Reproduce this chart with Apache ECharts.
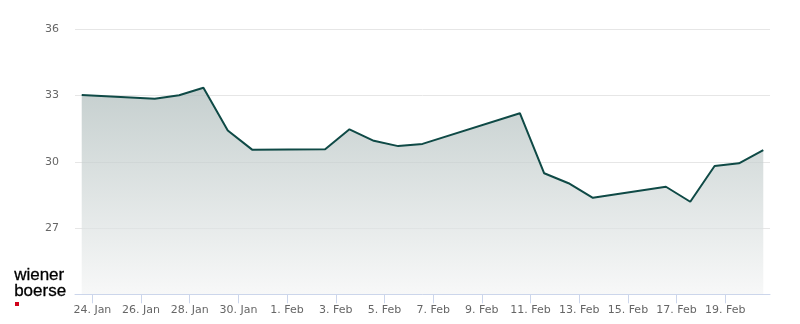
<!DOCTYPE html>
<html>
<head>
<meta charset="utf-8">
<script src="https://cdn.jsdelivr.net/npm/echarts@6/dist/echarts.min.js"></script>
<style>
html,body{margin:0;padding:0;background:#fff;}
#chart{width:800px;height:324px;}
</style>
</head>
<body>
<div id="chart"></div>
<script>
// Trading days (data timestamps are at 13:30 UTC of each day)
const dates = ['2026-01-23','2026-01-26','2026-01-27','2026-01-28','2026-01-29','2026-01-30',
  '2026-02-02','2026-02-03','2026-02-04','2026-02-05','2026-02-06',
  '2026-02-10','2026-02-11','2026-02-12','2026-02-13',
  '2026-02-16','2026-02-17','2026-02-18','2026-02-19','2026-02-20'];
const prices = [33.02, 32.85, 33.01, 33.35, 31.42, 30.55,
  30.57, 31.47, 30.95, 30.71, 30.81,
  32.20, 29.48, 29.03, 28.37,
  28.87, 28.19, 29.81, 29.93, 30.53];
const tickDates = ['2026-01-24','2026-01-26','2026-01-28','2026-01-30','2026-02-01','2026-02-03',
  '2026-02-05','2026-02-07','2026-02-09','2026-02-11','2026-02-13','2026-02-15','2026-02-17','2026-02-19'];
const yTicks = [27, 30, 33, 36];
const monthNames = ['Jan','Feb','Mär','Apr','Mai','Jun','Jul','Aug','Sep','Okt','Nov','Dez'];

const DAY = 86400000;
function ts(s, h, m) {
  const p = s.split('-').map(Number);
  return Date.UTC(p[0], p[1]-1, p[2], h || 0, m || 0);
}
const seriesData = dates.map((d, i) => [ts(d, 13, 30), prices[i]]);
const tickValues = tickDates.map(d => ts(d));
const xMin = seriesData[0][0] - 0.276 * DAY;
const xMax = seriesData[seriesData.length - 1][0] + 0.276 * DAY;

const chart = echarts.init(document.getElementById('chart'), null, {renderer: 'canvas'});
chart.setOption({
  animation: false,
  backgroundColor: '#ffffff',
  textStyle: {fontFamily: 'DejaVu Sans'},
  grid: {left: 75, right: 30, top: 29.3, bottom: 29.7, containLabel: false},
  xAxis: {
    type: 'value',
    min: xMin,
    max: xMax,
    z: 5,
    axisLine: {show: true, lineStyle: {color: '#ccd6eb', width: 1}},
    axisTick: {show: true, length: 9, customValues: tickValues, lineStyle: {color: '#ccd6eb', width: 1}},
    axisLabel: {
      show: true,
      customValues: tickValues,
      margin: 10,
      color: '#666666',
      fontSize: 11,
      fontFamily: 'DejaVu Sans',
      formatter: function (v) {
        const d = new Date(v);
        return d.getUTCDate() + '. ' + monthNames[d.getUTCMonth()];
      }
    },
    splitLine: {show: false}
  },
  yAxis: {
    type: 'value',
    min: 24,
    max: 36,
    interval: 3,
    axisLine: {show: false},
    axisTick: {show: false},
    axisLabel: {
      margin: 16,
      color: '#666666',
      fontSize: 11,
      fontFamily: 'DejaVu Sans',
      formatter: function (v) { return yTicks.indexOf(v) >= 0 ? String(v) : ''; }
    },
    splitLine: {show: true, lineStyle: {color: '#e6e6e6', width: 1}}
  },
  series: [{
    type: 'line',
    data: seriesData,
    showSymbol: false,
    symbol: 'none',
    smooth: false,
    lineStyle: {color: '#0f4a46', width: 2},
    areaStyle: {
      origin: 'start',
      color: new echarts.graphic.LinearGradient(0, 0, 0, 1, [
        {offset: 0, color: '#adbbba'},
        {offset: 1, color: '#f4f5f5'}
      ])
    },
    z: 2
  }],
  graphic: [
    {type: 'text', left: 14, top: 267, style: {text: 'wiener', fill: '#000000', stroke: '#000000', lineWidth: 0.3, font: '17px "Liberation Sans", Arial, sans-serif'}},
    {type: 'text', left: 14, top: 283, style: {text: 'boerse', fill: '#000000', stroke: '#000000', lineWidth: 0.3, font: '17px "Liberation Sans", Arial, sans-serif'}},
    {type: 'rect', shape: {x: 15, y: 302, width: 4, height: 4}, style: {fill: '#d0021b'}}
  ]
});
</script>
</body>
</html>
